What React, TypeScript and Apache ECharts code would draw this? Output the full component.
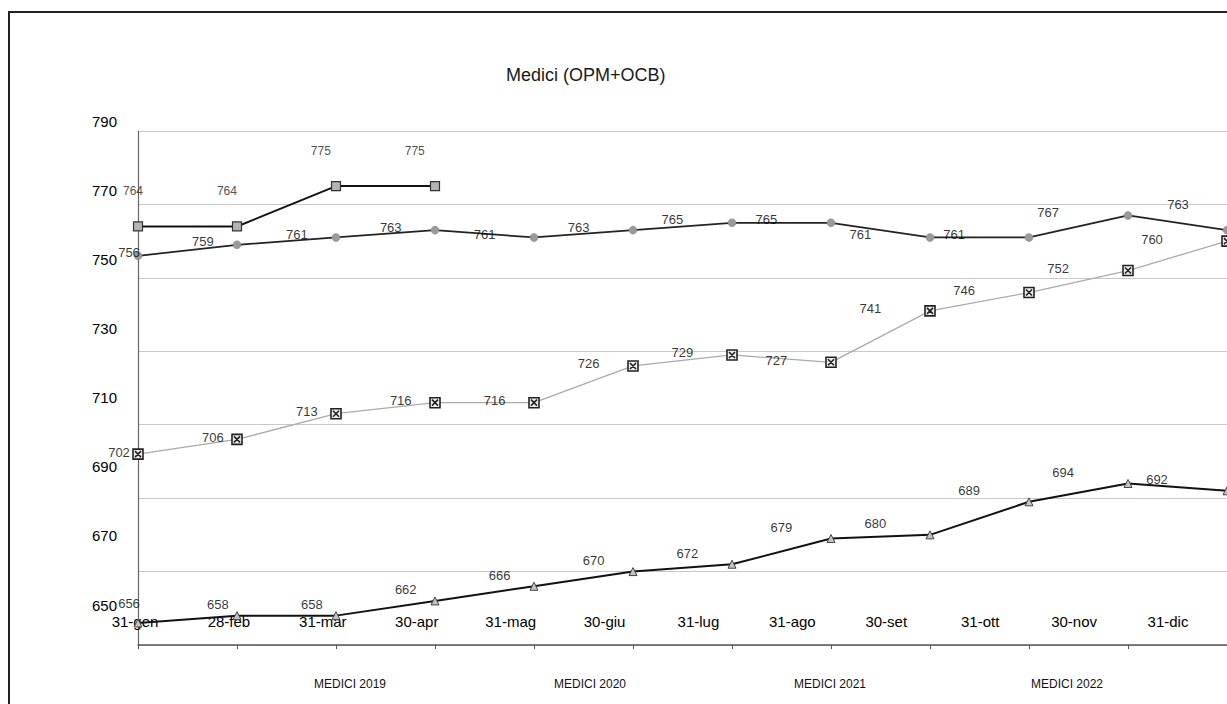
import React, { useEffect, useRef } from "react";
import * as echarts from "echarts";

const categories = ["31-gen", "28-feb", "31-mar", "30-apr", "31-mag", "30-giu", "31-lug", "31-ago", "30-set", "31-ott", "30-nov", "31-dic"];
const medici2019 = [656, 658, 658, 662, 666, 670, 672, 679, 680, 689, 694, 692];
const medici2020 = [702, 706, 713, 716, 716, 726, 729, 727, 741, 746, 752, 760];
const medici2021 = [756, 759, 761, 763, 761, 763, 765, 765, 761, 761, 767, 763];
const medici2022 = [764, 764, 775, 775];
const yTicks = [650, 670, 690, 710, 730, 750, 770, 790];
const seriesNames = ["MEDICI 2019", "MEDICI 2020", "MEDICI 2021", "MEDICI 2022"];
const chartTitle = "Medici (OPM+OCB)";

const FONT = "'Liberation Sans', Arial, sans-serif";

export default function App() {
  const ref = useRef<HTMLDivElement>(null);
  useEffect(() => {
    if (!ref.current) return;
    const chart = echarts.init(ref.current, undefined, { renderer: "svg" });
    const yMin = yTicks[0];
    const yMax = yTicks[yTicks.length - 1];
    const yStep = yTicks[1] - yTicks[0];

    const labelSeries = (
      data: number[],
      dx: number,
      dy: number,
      size: number,
      color: string,
      overrides: Record<number, number[]> = {}
    ) => ({
      type: "scatter",
      xAxisIndex: 2,
      yAxisIndex: 2,
      data: data.map((v, i) => (overrides[i] ? { value: v, label: { offset: overrides[i] } } : v)),
      symbol: "circle",
      symbolSize: 1,
      itemStyle: { color: "rgba(0,0,0,0)" },
      silent: true,
      z: 10,
      label: {
        show: true,
        position: "inside",
        offset: [dx, dy],
        fontSize: size,
        fontFamily: FONT,
        color,
        textBorderWidth: 0,
        formatter: (p: any) => String(Array.isArray(p.value) ? p.value[1] : p.value),
      },
    });

    const legendAt = (name: string, left: number) => ({
      data: [name],
      left,
      top: 678,
      padding: 0,
      itemWidth: 1,
      itemHeight: 1,
      itemGap: 0,
      selectedMode: false,
      itemStyle: { opacity: 0 },
      lineStyle: { opacity: 0 },
      textStyle: { fontSize: 12, fontFamily: FONT, color: "#111" },
    });

    chart.setOption({
      animation: false,
      backgroundColor: "#ffffff",
      title: {
        text: chartTitle,
        left: 506,
        top: 66,
        padding: 0,
        textStyle: { fontSize: 18, fontWeight: "normal", fontFamily: FONT, color: "#1a1a1a" },
      },
      legend: [
        legendAt(seriesNames[0], 307),
        legendAt(seriesNames[1], 547),
        legendAt(seriesNames[2], 787),
        legendAt(seriesNames[3], 1024),
      ],
      graphic: [
        {
          type: "rect",
          silent: true,
          shape: { x: 9, y: 12, width: 1400, height: 900 },
          style: { fill: "none", stroke: "#222", lineWidth: 2 },
        },
      ],
      grid: [
        { left: 138, right: -22, top: 131, bottom: 59 },
        { left: 135, right: 59, top: 121, bottom: 99 },
        { left: 135, right: 59, top: 131, bottom: 59 },
      ],
      xAxis: [
        {
          gridIndex: 0,
          type: "category",
          boundaryGap: false,
          data: categories,
          axisLine: { lineStyle: { color: "#555", width: 1.5 } },
          axisTick: { show: true, length: 4, lineStyle: { color: "#555" } },
          axisLabel: { show: false },
          splitLine: { show: false },
        },
        {
          gridIndex: 1,
          type: "category",
          boundaryGap: false,
          data: categories,
          axisLine: { show: false },
          axisTick: { show: false },
          axisLabel: { interval: 0, fontSize: 15, margin: 9, color: "#000", fontFamily: FONT },
          splitLine: { show: false },
        },
        {
          gridIndex: 2,
          type: "category",
          boundaryGap: false,
          data: categories,
          show: false,
        },
      ],
      yAxis: [
        {
          gridIndex: 0,
          type: "value",
          min: yMin,
          max: yMax,
          interval: yStep,
          axisLine: { show: true, lineStyle: { color: "#666", width: 1.2 } },
          axisTick: { show: false },
          axisLabel: { show: false },
          splitLine: { show: true, lineStyle: { color: "#c8c8c8", width: 1 } },
        },
        {
          gridIndex: 1,
          type: "value",
          min: yMin,
          max: yMax,
          interval: yStep,
          axisLine: { show: false },
          axisTick: { show: false },
          splitLine: { show: false },
          axisLabel: { fontSize: 15, margin: 18, color: "#000", fontFamily: FONT },
        },
        {
          gridIndex: 2,
          type: "value",
          min: yMin,
          max: yMax,
          interval: yStep,
          show: false,
          splitLine: { show: false },
        },
      ],
      series: [
        {
          name: seriesNames[0],
          type: "line",
          data: medici2019,
          symbol: "triangle",
          symbolSize: 8,
          lineStyle: { color: "#111", width: 2 },
          itemStyle: { color: "#c4c4c4", borderColor: "#444", borderWidth: 1 },
          label: { show: false },
        },
        {
          name: seriesNames[1],
          type: "line",
          data: medici2020,
          symbol: "path://M1,1 L9,1 L9,9 L1,9 Z M2.6,2.6 L7.4,7.4 M7.4,2.6 L2.6,7.4",
          symbolSize: 10,
          lineStyle: { color: "#aaa", width: 1.3 },
          itemStyle: { color: "#eee", borderColor: "#222", borderWidth: 1.6 },
          label: { show: false },
        },
        {
          name: seriesNames[2],
          type: "line",
          data: medici2021,
          symbol: "circle",
          symbolSize: 8,
          lineStyle: { color: "#222", width: 1.8 },
          itemStyle: { color: "#9a9a9a", borderColor: "#888", borderWidth: 0.5 },
          label: { show: false },
        },
        {
          name: seriesNames[3],
          type: "line",
          data: medici2022,
          symbol: "rect",
          symbolSize: 9,
          lineStyle: { color: "#111", width: 2 },
          itemStyle: { color: "#b4b4b4", borderColor: "#333", borderWidth: 1.2 },
          label: { show: false },
        },
        labelSeries(medici2019, -11, -11, 13, "#000", { 0: [-6, -19] }),
        labelSeries(medici2020, -16, -2, 13, "#000"),
        labelSeries(medici2021, -26, -3, 13, "#000", { 0: [-6, -3], 11: [10, -26] }),
        labelSeries(medici2022, -2, -35, 12, "#222"),
      ],
    } as any);
    return () => chart.dispose();
  }, []);
  return (
    <div
      ref={ref}
      style={{ position: "fixed", left: 0, top: 0, width: 1227, height: 704, background: "#fff" }}
    />
  );
}
